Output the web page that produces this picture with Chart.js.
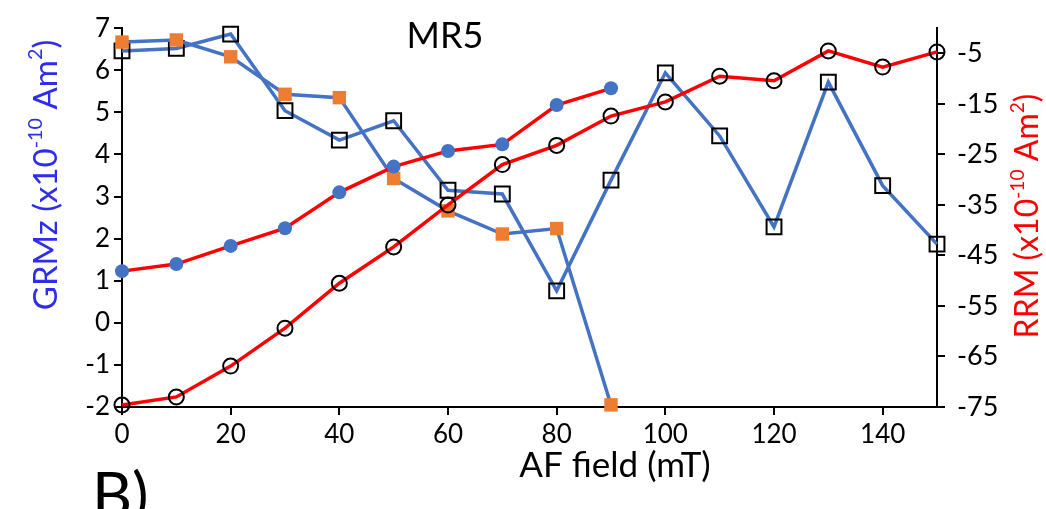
<!DOCTYPE html>
<html>
<head>
<meta charset="utf-8">
<script src="https://cdn.jsdelivr.net/npm/chart.js@4/dist/chart.umd.min.js"></script>
<style>
  html, body { margin: 0; padding: 0; background: #fff; }
  #wrap { width: 1046px; height: 509px; }
</style>
</head>
<body>
<div id="wrap"><canvas id="mr5"></canvas></div>
<script>
// AF demagnetisation steps (mT)
const fieldSteps = [0, 10, 20, 30, 40, 50, 60, 70, 80, 90, 100, 110, 120, 130, 140, 150];
const xTicks = [0, 20, 40, 60, 80, 100, 120, 140];
const grmzTicks = [-2, -1, 0, 1, 2, 3, 4, 5, 6, 7];
const rrmTicks = [-75, -65, -55, -45, -35, -25, -15, -5];

// GRMz (left axis), blue lines
const grmzOpenSquares = [6.46, 6.52, 6.86, 5.04, 4.34, 4.8, 3.15, 3.06, 0.76, 3.39, 5.94, 4.44, 2.28, 5.72, 3.26, 1.87];
const grmzOrangeSquares = [6.67, 6.72, 6.32, 5.43, 5.35, 3.43, 2.66, 2.11, 2.24, -1.95];

// RRM (right axis), red lines
const rrmBlueDots = [-48.1, -46.7, -43.1, -39.6, -32.5, -27.4, -24.3, -23.0, -15.2, -11.9];
const rrmOpenCircles = [-74.6, -73.0, -66.9, -59.4, -50.5, -43.3, -35.0, -27.0, -23.2, -17.4, -14.6, -9.5, -10.4, -4.5, -7.7, -4.7];

const FONT = 'Lato, "Open Sans", sans-serif';

function pts(values) {
  return values.map((v, i) => ({ x: fieldSteps[i], y: v }));
}

// draws text with superscript parts, optionally rotated
function richText(ctx, parts, x, y, size, color, rotate) {
  ctx.save();
  ctx.translate(x, y);
  if (rotate) ctx.rotate(-Math.PI / 2);
  ctx.fillStyle = color;
  ctx.textBaseline = 'alphabetic';
  let total = 0;
  parts.forEach(p => {
    ctx.font = (p.sup ? size * 0.6 : size) + 'px ' + FONT;
    p.w = ctx.measureText(p.t).width;
    total += p.w;
  });
  let cx = -total / 2;
  parts.forEach(p => {
    ctx.font = (p.sup ? size * 0.6 : size) + 'px ' + FONT;
    ctx.fillText(p.t, cx, p.sup ? size * 0.35 - size * 0.45 : size * 0.35);
    cx += p.w;
  });
  ctx.restore();
}

const labelsPlugin = {
  id: 'labelsPlugin',
  afterDraw(chart) {
    const ctx = chart.ctx;
    richText(ctx, [{ t: 'GRMz (x10' }, { t: '-10', sup: true }, { t: ' Am' }, { t: '2', sup: true }, { t: ')' }],
      45, 175, 33, 'rgb(45,45,235)', true);
    richText(ctx, [{ t: 'RRM (x10' }, { t: '-10', sup: true }, { t: ' Am' }, { t: '2', sup: true }, { t: ')' }],
      1027, 216, 32, '#ff0000', true);
    richText(ctx, [{ t: 'AF field (mT)' }], 615, 465, 35, '#000', false);
    richText(ctx, [{ t: 'MR5' }], 445, 35, 36, '#000', false);
    ctx.save();
    ctx.font = '62px ' + FONT;
    ctx.fillStyle = '#000';
    ctx.textBaseline = 'alphabetic';
    ctx.fillText('B)', 92, 517);
    ctx.restore();
  }
};

const axisLine = { display: true, color: '#000', width: 2 };
const tickGrid = { drawOnChartArea: false, drawTicks: true, tickLength: 8, color: '#000', lineWidth: 2 };
const tickFont = { family: FONT, size: 26 };

new Chart(document.getElementById('mr5'), {
  type: 'line',
  data: {
    datasets: [
      {
        label: 'RRM blue dots',
        data: pts(rrmBlueDots),
        yAxisID: 'y2',
        borderColor: '#ff0000',
        borderWidth: 3.5,
        pointStyle: 'circle',
        pointRadius: 7,
        pointBackgroundColor: '#4472c4',
        pointBorderColor: '#4472c4',
        pointBorderWidth: 0,
        clip: false
      },
      {
        label: 'RRM open circles',
        data: pts(rrmOpenCircles),
        yAxisID: 'y2',
        borderColor: '#ff0000',
        borderWidth: 3.5,
        pointStyle: 'circle',
        pointRadius: 7.5,
        pointBackgroundColor: 'rgba(0,0,0,0)',
        pointBorderColor: '#000',
        pointBorderWidth: 2,
        clip: false
      },
      {
        label: 'GRMz orange squares',
        data: pts(grmzOrangeSquares),
        yAxisID: 'y',
        borderColor: '#4472c4',
        borderWidth: 3.5,
        pointStyle: 'rect',
        pointRadius: 9.5,
        pointBackgroundColor: '#ed7d31',
        pointBorderColor: '#ed7d31',
        pointBorderWidth: 0,
        clip: false
      },
      {
        label: 'GRMz open squares',
        data: pts(grmzOpenSquares),
        yAxisID: 'y',
        borderColor: '#4472c4',
        borderWidth: 3.5,
        pointStyle: 'rect',
        pointRadius: 10.5,
        pointBackgroundColor: 'rgba(0,0,0,0)',
        pointBorderColor: '#000',
        pointBorderWidth: 2,
        clip: false
      }
    ]
  },
  options: {
    responsive: true,
    maintainAspectRatio: false,
    animation: false,
    layout: { padding: { top: 28, left: 0, right: 0, bottom: 0 } },
    plugins: { legend: { display: false }, tooltip: { enabled: false } },
    elements: { line: { tension: 0 } },
    scales: {
      x: {
        type: 'linear',
        min: 0,
        max: 150,
        afterBuildTicks: s => { s.ticks = xTicks.map(v => ({ value: v })); },
        afterFit: s => { s.height = 102; },
        border: axisLine,
        grid: tickGrid,
        ticks: { color: '#000', font: tickFont, padding: 4, maxRotation: 0 }
      },
      y: {
        position: 'left',
        min: -2,
        max: 7,
        afterBuildTicks: s => { s.ticks = grmzTicks.map(v => ({ value: v })); },
        afterFit: s => { s.width = 122; },
        border: axisLine,
        grid: tickGrid,
        ticks: { color: '#000', font: tickFont, padding: 4 }
      },
      y2: {
        position: 'right',
        min: -75,
        max: 0,
        afterBuildTicks: s => { s.ticks = rrmTicks.map(v => ({ value: v })); },
        afterFit: s => { s.width = 109; },
        border: axisLine,
        grid: tickGrid,
        ticks: { color: '#000', font: { family: FONT, size: 27 }, padding: 12 }
      }
    }
  },
  plugins: [labelsPlugin]
});
</script>
</body>
</html>
